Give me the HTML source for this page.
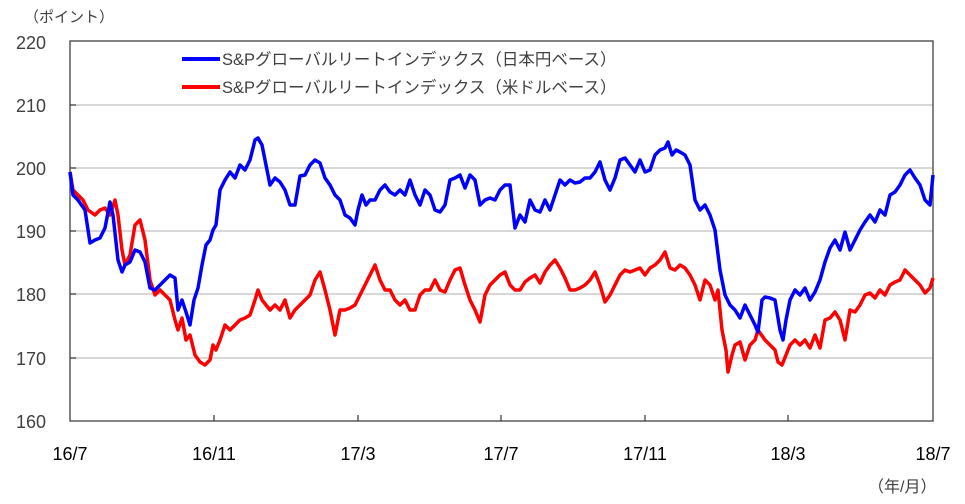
<!DOCTYPE html>
<html><head><meta charset="utf-8"><style>
html,body{margin:0;padding:0;background:#fff;}
svg{display:block;font-family:"Liberation Sans","Noto Sans CJK JP",sans-serif;}
</style></head><body>
<svg width="965" height="504" viewBox="0 0 965 504" xmlns="http://www.w3.org/2000/svg">
<g stroke="#bfbfbf" stroke-width="1.2">
<line x1="70" y1="105" x2="933" y2="105"/>
<line x1="70" y1="168" x2="933" y2="168"/>
<line x1="70" y1="231" x2="933" y2="231"/>
<line x1="70" y1="294" x2="933" y2="294"/>
<line x1="70" y1="358" x2="933" y2="358"/>
</g>
<g stroke="#404040" stroke-width="1.3" fill="none">
<rect x="70" y="41" width="863" height="380"/>
<line x1="70" y1="105" x2="76" y2="105"/><line x1="70" y1="168" x2="76" y2="168"/><line x1="70" y1="231" x2="76" y2="231"/><line x1="70" y1="294" x2="76" y2="294"/><line x1="70" y1="358" x2="76" y2="358"/>
<line x1="214" y1="421" x2="214" y2="415"/><line x1="358" y1="421" x2="358" y2="415"/><line x1="501" y1="421" x2="501" y2="415"/><line x1="645" y1="421" x2="645" y2="415"/><line x1="788" y1="421" x2="788" y2="415"/>
</g>
<g font-size="18" fill="#404040" text-anchor="end">
<text x="46" y="49">220</text><text x="46" y="112">210</text><text x="46" y="175">200</text><text x="46" y="238">190</text><text x="46" y="301">180</text><text x="46" y="365">170</text><text x="46" y="428">160</text>
</g>
<text x="24" y="22" font-size="15" fill="#404040">（ポイント）</text>
<g font-size="18" fill="#000" text-anchor="middle">
<text x="70" y="460">16/7</text><text x="214" y="460">16/11</text><text x="358" y="460">17/3</text><text x="501" y="460">17/7</text><text x="645" y="460">17/11</text><text x="788" y="460">18/3</text><text x="933" y="460">18/7</text>
</g>
<text x="868" y="492" font-size="16" fill="#404040">（年/月）</text>
<line x1="182" y1="59" x2="220" y2="59" stroke="#0000ff" stroke-width="4"/>
<line x1="182" y1="87" x2="220" y2="87" stroke="#ff0000" stroke-width="4"/>
<text x="222" y="65" font-size="16.5" fill="#404040">S&amp;Pグローバルリートインデックス（日本円ベース）</text>
<text x="222" y="93" font-size="16.5" fill="#404040">S&amp;Pグローバルリートインデックス（米ドルベース）</text>
<polyline fill="none" stroke="#ff0000" stroke-width="3.5" stroke-linejoin="round" points="70,172 73,190 78,195 83,200 88,210 95,215 100,210 105,208 110,215 115,200 118,215 122,250 125,265 130,255 135,225 140,220 145,240 150,280 155,295 160,290 165,295 170,300 175,320 178,330 182,318 186,340 190,335 195,355 200,362 205,365 210,360 213,345 216,350 220,340 225,325 230,330 235,325 240,320 245,318 250,315 255,300 258,290 262,300 266,305 270,310 275,305 280,310 285,300 290,318 295,310 300,305 305,300 310,295 315,280 320,272 325,290 330,310 335,335 340,310 345,310 350,308 355,305 360,295 365,285 370,275 375,265 380,280 385,290 390,290 395,300 400,305 405,300 410,310 415,310 420,295 425,290 430,290 435,280 440,290 445,292 450,280 455,270 460,268 465,285 470,300 475,310 480,322 485,295 490,285 495,280 500,275 505,272 510,285 515,290 520,290 525,282 530,278 535,275 540,283 545,272 550,265 555,260 560,268 565,278 570,290 575,290 580,288 585,285 590,280 595,272 600,285 605,302 610,295 615,285 620,275 625,270 630,272 635,270 640,268 645,275 650,268 655,265 660,260 665,252 670,268 675,270 680,265 685,268 690,275 695,285 700,300 705,280 710,285 715,300 718,290 722,330 726,350 728,372 732,355 735,345 740,342 745,360 750,345 755,340 758,330 765,340 770,345 775,350 778,362 782,365 786,355 790,345 795,340 800,345 805,340 810,348 815,335 820,348 825,320 830,318 835,312 840,320 845,340 850,310 855,312 860,305 865,295 870,293 875,298 880,290 885,295 890,285 895,282 900,280 905,270 910,275 915,280 920,285 925,293 930,288 933,278"/>
<polyline fill="none" stroke="#0000ff" stroke-width="3.5" stroke-linejoin="round" points="70,172 73,195 78,200 85,210 90,243 95,240 100,238 105,228 110,202 113,215 118,260 122,272 125,265 130,262 135,250 140,252 145,262 150,288 155,290 160,285 165,280 170,275 175,278 178,310 182,300 186,312 190,325 194,300 198,288 202,265 206,245 210,240 213,230 216,225 220,190 225,180 230,172 235,178 240,165 245,170 250,160 255,140 258,138 262,145 266,165 270,185 275,178 280,182 285,190 290,205 295,205 300,176 305,175 310,165 315,160 320,163 325,178 330,185 335,195 340,200 345,215 350,218 355,225 358,210 362,195 366,205 370,200 375,200 380,190 385,185 390,192 395,195 400,190 405,195 410,180 415,195 420,205 425,190 430,195 435,210 440,212 445,205 450,180 455,178 460,175 465,188 470,175 475,180 480,205 485,200 490,198 495,200 500,190 505,185 510,185 515,228 520,215 525,222 530,200 535,210 540,212 545,200 550,210 555,195 560,180 565,185 570,180 575,183 580,182 585,178 590,178 595,172 600,162 605,180 610,190 615,178 620,160 625,158 630,165 635,172 640,160 645,172 650,170 655,155 660,150 665,148 668,142 672,155 676,150 680,152 685,155 690,165 695,200 700,210 705,205 710,215 715,230 720,270 725,295 730,305 735,310 740,318 745,305 750,315 755,325 758,332 762,300 765,297 770,298 775,300 780,330 783,340 786,320 790,300 795,290 800,295 805,288 810,300 815,292 820,280 825,262 830,248 835,240 840,250 845,232 850,250 855,240 860,230 865,222 870,215 875,222 880,210 885,215 890,195 895,192 900,185 905,175 910,170 915,178 920,185 925,200 930,205 933,175"/>
</svg>
</body></html>
